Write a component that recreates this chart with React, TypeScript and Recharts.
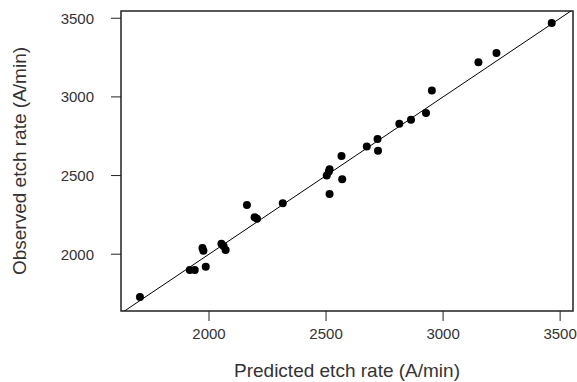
import React from "react";
import { ScatterChart, Scatter, XAxis, YAxis, ReferenceLine, ReferenceArea } from "recharts";

const predicted = [1705, 1918, 1939, 1986, 1972, 1976, 2053, 2062, 2071, 2162, 2195, 2205, 2315, 2503, 2512, 2515, 2515, 2566, 2569, 2674, 2722, 2720, 2813, 2863, 2927, 2952, 3151, 3228, 3464];
const observed = [1728, 1900, 1900, 1921, 2040, 2022, 2066, 2052, 2027, 2313, 2235, 2225, 2324, 2500, 2525, 2540, 2383, 2625, 2477, 2684, 2657, 2733, 2829, 2854, 2897, 3041, 3221, 3279, 3469];
const xTicks = [2000, 2500, 3000, 3500];
const yTicks = [2000, 2500, 3000, 3500];

const data = predicted.map((p, i) => ({ x: p, y: observed[i] }));

const X_MIN = 1624, X_MAX = 3555, Y_MIN = 1639, Y_MAX = 3546;
const font = "'Liberation Sans', Arial, sans-serif";

export default function App() {
  return (
    <div style={{ position: "absolute", left: 0, top: 0, background: "#fff" }}>
      <ScatterChart width={577} height={382} margin={{ top: 11, right: 4, left: 0, bottom: 0 }}>
        <XAxis
          type="number"
          dataKey="x"
          domain={[X_MIN, X_MAX]}
          allowDataOverflow
          ticks={xTicks}
          height={71}
          tickSize={10}
          tickMargin={7}
          axisLine={false}
          tickLine={{ stroke: "#222" }}
          tick={{ fill: "#333", fontSize: 15, fontFamily: font }}
          label={{ value: "Predicted etch rate (A/min)", position: "insideBottom", offset: 5, fill: "#333", fontSize: 19, fontFamily: font }}
        />
        <YAxis
          type="number"
          dataKey="y"
          domain={[Y_MIN, Y_MAX]}
          allowDataOverflow
          ticks={yTicks}
          width={121}
          tickSize={10}
          tickMargin={17}
          axisLine={false}
          tickLine={{ stroke: "#222" }}
          tick={{ fill: "#333", fontSize: 15, fontFamily: font }}
          label={{ value: "Observed etch rate (A/min)", angle: -90, position: "insideLeft", offset: 19, fill: "#333", fontSize: 19, fontFamily: font, style: { textAnchor: "middle" } }}
        />
        <ReferenceArea x1={X_MIN} x2={X_MAX} y1={Y_MIN} y2={Y_MAX} fill="none" stroke="#222" strokeWidth={1.5} ifOverflow="visible" />
        <ReferenceLine segment={[{ x: 1500, y: 1500 }, { x: 3700, y: 3700 }]} stroke="#000" strokeWidth={1} ifOverflow="hidden" />
        <Scatter data={data} fill="#000" isAnimationActive={false} shape={(props: any) => <circle cx={props.cx} cy={props.cy} r={4} fill="#000" />} />
      </ScatterChart>
    </div>
  );
}
